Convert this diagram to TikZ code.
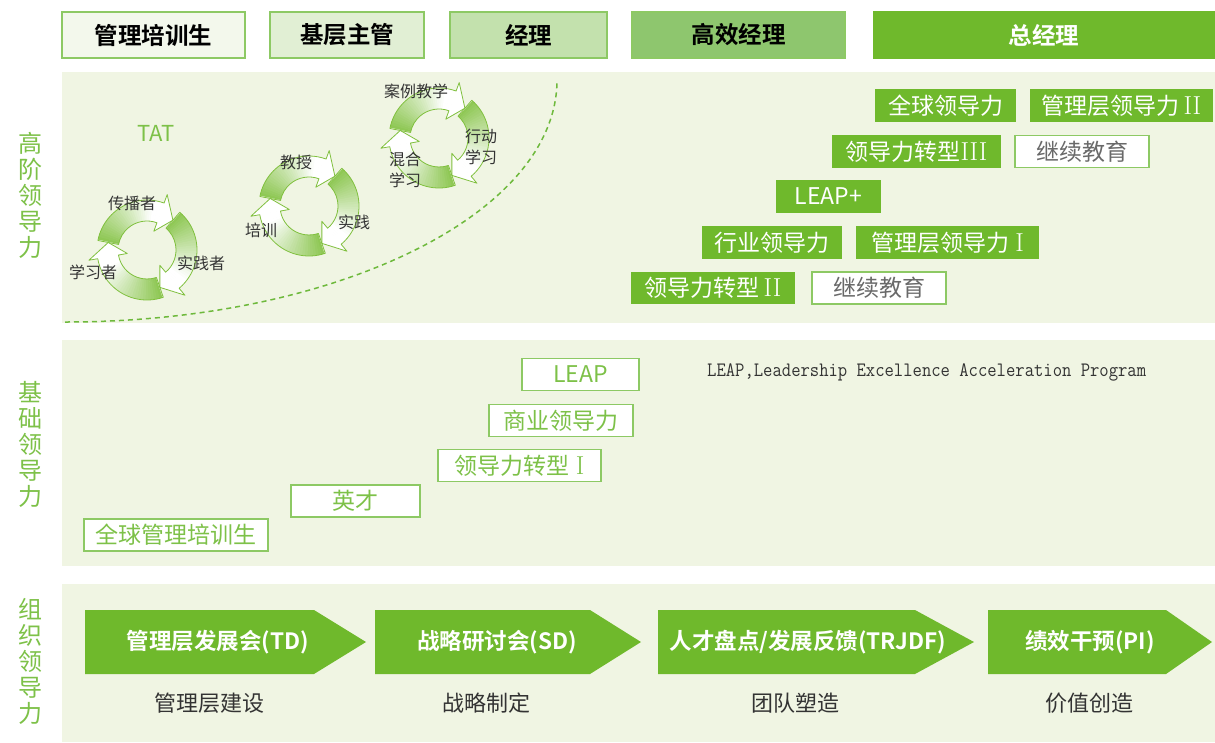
\documentclass[tikz,border=0pt]{standalone}
\usepackage{fontspec}
\newfontfamily\cjk{Noto Sans CJK SC}[BoldFont={Noto Sans CJK SC Bold}]
\usetikzlibrary{calc}

\definecolor{panel}{RGB}{240,245,227}
\definecolor{leafgreen}{RGB}{111,185,44}
\definecolor{edgegreen}{RGB}{141,201,100}
\definecolor{labelgreen}{RGB}{125,193,72}
\definecolor{ringgreen}{RGB}{128,192,62}
\definecolor{dashgreen}{RGB}{110,185,60}
\definecolor{hdrA}{RGB}{243,248,236}
\definecolor{hdrB}{RGB}{225,239,212}
\definecolor{hdrC}{RGB}{195,225,173}
\definecolor{hdrD}{RGB}{142,198,110}
\definecolor{inkgray}{RGB}{51,51,51}
\definecolor{softgray}{RGB}{105,105,105}

\tikzset{
  hdr/.style={draw=edgegreen, line width=1.3pt, minimum height=46pt, inner sep=0pt,
    font=\cjk\bfseries\fontsize{23.5}{23.5}\selectfont},
  gbox/.style={fill=leafgreen, minimum height=33pt, inner sep=0pt, text=white,
    font=\cjk\fontsize{23}{23}\selectfont},
  wbox/.style={fill=white, draw=edgegreen, line width=1.2pt, minimum height=32pt,
    inner sep=0pt, text=softgray, font=\cjk\fontsize{23}{23}\selectfont},
  mbox/.style={fill=white, draw=edgegreen, line width=1.2pt, minimum height=32pt,
    inner sep=0pt, text=labelgreen, font=\cjk\fontsize{23}{23}\selectfont},
  sidelabel/.style={text=labelgreen, align=center, inner sep=0pt,
    font=\cjk\fontsize{24}{26}\selectfont},
  ringlabel/.style={text=inkgray, align=center, inner sep=0pt,
    font=\cjk\fontsize{16}{21}\selectfont},
  chevron/.style={fill=leafgreen},
  chevtext/.style={text=white, inner sep=0pt, font=\cjk\bfseries\fontsize{22.5}{22.5}\selectfont},
  sublabel/.style={text=inkgray, inner sep=0pt, font=\cjk\fontsize{22}{22}\selectfont},
}

% serif Roman numerals inside the programme names
\newcommand\rnum[1]{{\rmfamily\fontsize{26}{26}\selectfont #1}}

% One arrow of a three-part cycle: centre (#1,#2), head base at angle #3
\newcommand\cyclearrow[3]{%
  \begin{scope}[shift={(#1,#2)}, y=1pt]
    \foreach \i in {0,...,29}{%
      \pgfmathsetmacro\aa{#3+98-\i*98/30}%
      \pgfmathsetmacro\ab{#3+98-(\i+1)*98/30-0.8}%
      \pgfmathtruncatemacro\pc{max(0,88-\i*3.4)}%
      \fill[ringgreen!\pc!white] (\aa:50) arc[start angle=\aa, end angle=\ab, radius=50]
        -- (\ab:29) arc[start angle=\ab, end angle=\aa, radius=29] -- cycle;
    }
    \fill[white] (#3:50) -- (#3:59) -- (#3-21:39.5) -- (#3:20) -- (#3:29) -- cycle;
    \draw[ringgreen, line width=0.8pt, line join=round]
      (#3+99:50) arc[start angle=#3+99, end angle=#3, radius=50]
      -- (#3:59) -- (#3-21:39.5) -- (#3:20) -- (#3:29)
      arc[start angle=#3, end angle=#3+99, radius=29] -- cycle;
  \end{scope}}

\newcommand\cyclering[2]{%
  \cyclearrow{#1}{#2}{70}\cyclearrow{#1}{#2}{-50}\cyclearrow{#1}{#2}{190}}

\begin{document}
\begin{tikzpicture}[x=1pt, y=-1pt]
\useasboundingbox (0,0) rectangle (1215,742);
\fill[white] (0,0) rectangle (1215,742);

% section panels
\fill[panel] (62,72) rectangle (1215,323);
\fill[panel] (62,340) rectangle (1215,566);
\fill[panel] (62,584) rectangle (1215,742);

% career-level header
\node[hdr, fill=hdrA, minimum width=183pt] (lvl1) at (153.5,35) {管理培训生};
\node[hdr, fill=hdrB, minimum width=154pt] (lvl2) at (347,35) {基层主管};
\node[hdr, fill=hdrC, minimum width=157pt] (lvl3) at (528.5,35) {经理};
\node[hdr, fill=hdrD, minimum width=213pt] (lvl4) at (738.5,35) {高效经理};
\node[hdr, draw=leafgreen, fill=leafgreen, text=white, minimum width=340pt] (lvl5) at (1044,35) {总经理};

% side captions
\node[sidelabel] (sideA) at (31,195) {高\\阶\\领\\导\\力};
\node[sidelabel] (sideB) at (31,444) {基\\础\\领\\导\\力};
\node[sidelabel] (sideC) at (31,661) {组\\织\\领\\导\\力};

% boundary of the senior area
\draw[dashgreen, line width=1.5pt, dash pattern=on 5pt off 4pt]
  (65,322) arc[start angle=90, end angle=0, x radius=492, y radius=242];

\node[text=labelgreen, inner sep=0pt, font=\cjk\fontsize{22}{22}\selectfont] (tat) at (156,133) {TAT};

% learning cycles
\cyclering{147}{250}
\cyclering{309}{206}
\cyclering{439}{138}

\node[ringlabel] (r1a) at (132,203) {传播者};
\node[ringlabel] (r1b) at (201,263) {实践者};
\node[ringlabel] (r1c) at (93,272) {学习者};
\node[ringlabel] (r2a) at (296,162) {教授};
\node[ringlabel] (r2b) at (354,222) {实践};
\node[ringlabel] (r2c) at (261,230) {培训};
\node[ringlabel] (r3a) at (416,91) {案例教学};
\node[ringlabel] (r3b) at (481,147) {行动\\学习};
\node[ringlabel] (r3c) at (405,170) {混合\\学习};

% senior programmes
\node[gbox, minimum width=141pt] (g1) at (945.5,105.5) {全球领导力};
\node[gbox, minimum width=183pt] (g2) at (1121.5,105.5) {管理层领导力\,\rnum{II}};
\node[gbox, minimum width=169pt] (g3) at (916.5,151.5) {领导力转型\rnum{III}};
\node[wbox, minimum width=134pt] (w1) at (1082,151.5) {继续教育};
\node[gbox, minimum width=105pt] (g4) at (828.5,196.5) {LEAP+};
\node[gbox, minimum width=140pt] (g5) at (772,242.5) {行业领导力};
\node[gbox, minimum width=183pt] (g6) at (947.5,242.5) {管理层领导力\;\rnum{I}};
\node[gbox, minimum width=164pt, minimum height=32pt] (g7) at (713,288) {领导力转型\,\rnum{II}};
\node[wbox, minimum width=134pt] (w2) at (879,288) {继续教育};

% foundation programmes
\node[mbox, minimum width=117pt] (m1) at (580.5,374.5) {LEAP};
\node[mbox, minimum width=144pt] (m2) at (561,420.5) {商业领导力};
\node[mbox, minimum width=163pt] (m3) at (519.5,465.5) {领导力转型\;\rnum{I}};
\node[mbox, minimum width=129pt] (m4) at (355.5,501) {英才};
\node[mbox, minimum width=184pt] (m5) at (176,535) {全球管理培训生};

\node[anchor=west, inner sep=0pt, text=inkgray] (leapnote) at (707,372)
  {\scalebox{0.93}[1.05]{\ttfamily\fontsize{19.5}{20}\selectfont LEAP,Leadership Excellence Acceleration Program}};

% organisational process chevrons
\fill[chevron] (85,610) -- (314,610) -- (366,642) -- (314,674) -- (85,674) -- cycle;
\fill[chevron] (375,610) -- (590,610) -- (641,642) -- (590,674) -- (375,674) -- cycle;
\fill[chevron] (658,610) -- (915,610) -- (974,642) -- (915,674) -- (658,674) -- cycle;
\fill[chevron] (988,610) -- (1166,610) -- (1212,642) -- (1166,674) -- (988,674) -- cycle;

\node[chevtext] (p1) at (218,642) {管理层发展会(TD)};
\node[chevtext] (p2) at (497,642) {战略研讨会(SD)};
\node[chevtext] (p3) at (808,642) {人才盘点/发展反馈(TRJDF)};
\node[chevtext] (p4) at (1090,642) {绩效干预(PI)};

\node[sublabel] (s1) at (209,703) {管理层建设};
\node[sublabel] (s2) at (486,703) {战略制定};
\node[sublabel] (s3) at (795,703) {团队塑造};
\node[sublabel] (s4) at (1089,703) {价值创造};
\end{tikzpicture}
\end{document}
